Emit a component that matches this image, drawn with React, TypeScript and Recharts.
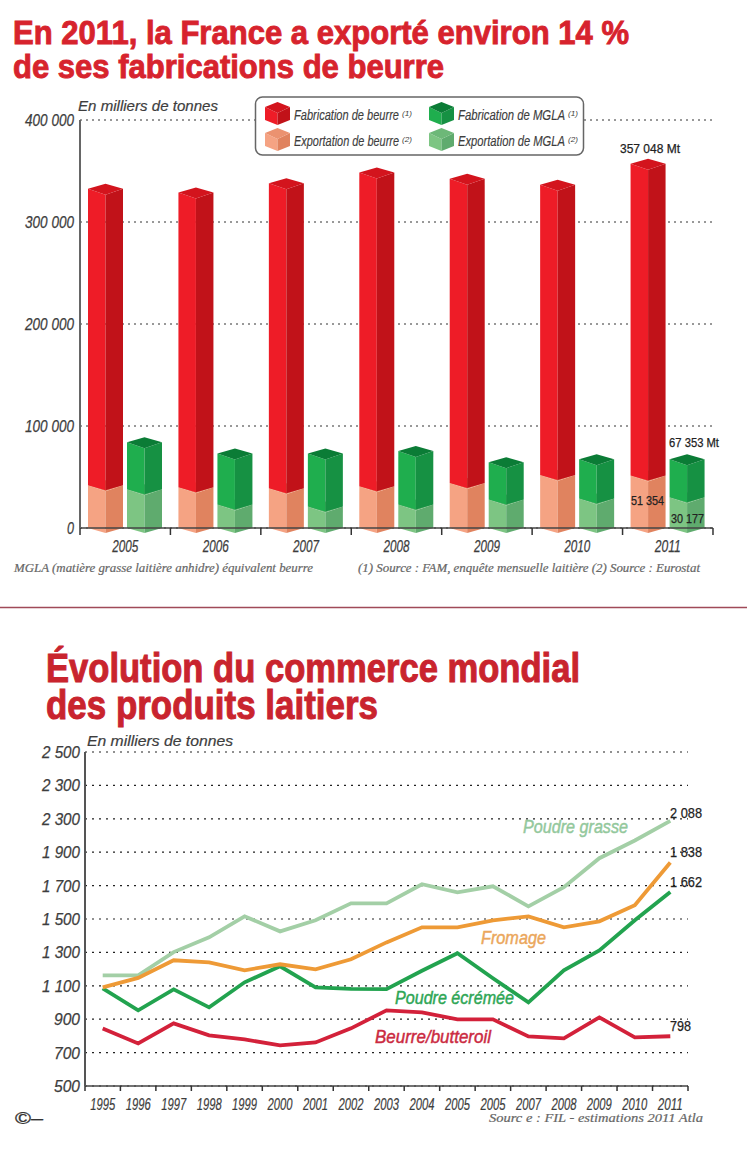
import {
  Bar,
  BarChart,
  CartesianGrid,
  Line,
  LineChart,
  XAxis,
  YAxis,
} from "recharts";

const barYears = ["2005", "2006", "2007", "2008", "2009", "2010", "2011"];
const fabricationBeurre = [332500, 329000, 338000, 348500, 342500, 336500, 357048];
const exportationBeurre = [42000, 40000, 39000, 41000, 44000, 52000, 51354];
const fabricationMgla = [84000, 73000, 73000, 75500, 64500, 67500, 67353];
const exportationMgla = [38000, 23000, 21000, 23000, 28000, 29000, 30177];
const barTicks = [0, 100000, 200000, 300000, 400000];
const barTickLabels = ["0", "100 000", "200 000", "300 000", "400 000"];

const lineYears = [
  1995, 1996, 1997, 1998, 1999, 2000, 2001, 2002, 2003, 2004, 2005, 2006, 2007, 2008, 2009, 2010, 2011,
];
// the source prints 2005 twice on its axis
const lineYearLabels = [
  "1995", "1996", "1997", "1998", "1999", "2000", "2001", "2002", "2003", "2004", "2005", "2005", "2007", "2008", "2009", "2010", "2011",
];
const poudreGrasse = [1163, 1163, 1302, 1390, 1516, 1426, 1492, 1594, 1594, 1708, 1660, 1696, 1576, 1690, 1864, 1970, 2088];
const fromage = [1091, 1147, 1253, 1240, 1193, 1229, 1199, 1259, 1360, 1450, 1450, 1492, 1516, 1450, 1486, 1582, 1838];
const poudreEcremee = [1085, 953, 1079, 971, 1121, 1217, 1091, 1082, 1080, 1190, 1295, 1145, 1001, 1193, 1312, 1492, 1662];
const beurre = [845, 755, 875, 803, 779, 743, 761, 845, 953, 941, 899, 899, 797, 785, 911, 791, 798];
const lineTicks = [500, 700, 900, 1100, 1300, 1500, 1700, 1900, 2100, 2300, 2500];
// and 2 300 twice on this one
const lineTickLabels = ["500", "700", "900", "1 100", "1 300", "1 500", "1 700", "1 900", "2 300", "2 300", "2 500"];

const barData = barYears.map((year, i) => ({
  year,
  exportBeurre: exportationBeurre[i],
  resteBeurre: fabricationBeurre[i] - exportationBeurre[i],
  exportMgla: exportationMgla[i],
  resteMgla: fabricationMgla[i] - exportationMgla[i],
}));

const lineData = lineYears.map((year, i) => ({
  year,
  poudreGrasse: poudreGrasse[i],
  fromage: fromage[i],
  poudreEcremee: poudreEcremee[i],
  beurre: beurre[i],
}));

const SANS = "'Liberation Sans', Arial, sans-serif";
const NARROW = "'Liberation Sans Narrow', 'Liberation Sans', sans-serif";
const SERIF = "'Liberation Serif', serif";
const INK = "#3d3d3d";

const palette = {
  red: { left: "#ee1c27", right: "#c11219", top: "#d3141d" },
  peach: { left: "#f5a383", right: "#e0835f", top: "#eb9270" },
  green: { left: "#1fae4e", right: "#169143", top: "#0b7c36" },
  lightGreen: { left: "#7dc583", right: "#5fab6e", top: "#6db878" },
};
type Faces = typeof palette.red;

// 3D prism: the sides sit on the value, the apexes stick out above and below
const Prism = (props: { x?: number; y?: number; width?: number; height?: number; faces: Faces }) => {
  const { x = 0, y = 0, width = 0, height = 0, faces } = props;
  const mid = x + width / 2;
  const right = x + width;
  const bottom = y + height;
  const back = y - 5;
  const front = y + 6;
  const low = bottom + 5;
  return (
    <g>
      <polygon points={`${x},${y} ${mid},${front} ${mid},${low} ${x},${bottom}`} fill={faces.left} />
      <polygon points={`${mid},${front} ${right},${y} ${right},${bottom} ${mid},${low}`} fill={faces.right} />
      <polygon points={`${x},${y} ${mid},${back} ${right},${y} ${mid},${front}`} fill={faces.top} />
    </g>
  );
};

const Txt = (props: {
  x: number;
  y: number;
  w?: number;
  size: number;
  fill?: string;
  family?: string;
  bold?: boolean;
  upright?: boolean;
  thick?: number;
  anchor?: "start" | "middle" | "end";
  children: React.ReactNode;
}) => (
  <text
    x={props.x}
    y={props.y}
    fontSize={props.size}
    fill={props.fill ?? INK}
    stroke={props.thick ? props.fill ?? INK : undefined}
    strokeWidth={props.thick}
    fontFamily={props.family ?? SANS}
    fontWeight={props.bold ? 700 : 400}
    fontStyle={props.upright ? "normal" : "italic"}
    textAnchor={props.anchor ?? "start"}
    textLength={props.w}
    lengthAdjust={props.w ? "spacingAndGlyphs" : undefined}
  >
    {props.children}
  </text>
);

const BarXTick = (props: any) => {
  const { x, y, index, payload } = props;
  const half = 45.2;
  return (
    <g>
      {index === 0 && <line x1={x - half} x2={x - half} y1={y} y2={y + 7} stroke="#333" strokeWidth={1.5} />}
      <line x1={x + half} x2={x + half} y1={y} y2={y + 7} stroke="#333" strokeWidth={1.5} />
      <Txt x={x} y={y + 24} w={26} size={16} thick={0.25} anchor="middle">
        {payload.value}
      </Txt>
    </g>
  );
};

const BarYTick = (props: any) => {
  const { x, y, payload } = props;
  const label = barTickLabels[barTicks.indexOf(payload.value)];
  return (
    <Txt x={x - 6} y={y + 6} w={label.length > 1 ? 49 : 7} size={16} thick={0.25} anchor="end">
      {label}
    </Txt>
  );
};

const LineXTick = (props: any) => {
  const { x, y, index } = props;
  const half = 17.7;
  return (
    <g>
      {index === 0 && <line x1={x - half} x2={x - half} y1={y} y2={y + 5} stroke="#333" strokeWidth={1.5} />}
      <line x1={x + half} x2={x + half} y1={y} y2={y + 5} stroke="#333" strokeWidth={1.5} />
      <Txt x={x} y={y + 24} w={25} size={16} thick={0.2} anchor="middle">
        {lineYearLabels[index]}
      </Txt>
    </g>
  );
};

const LineYTick = (props: any) => {
  const { x, y, payload } = props;
  const label = lineTickLabels[lineTicks.indexOf(payload.value)];
  return (
    <Txt x={x - 5} y={y + 6} w={label.length > 3 ? 38 : 26} size={17} thick={0.25} anchor="end">
      {label}
    </Txt>
  );
};

const legendItems = [
  { label: "Fabrication de beurre", note: "(1)", faces: palette.red, x: 265, y: 115 },
  { label: "Exportation de beurre", note: "(2)", faces: palette.peach, x: 265, y: 141 },
  { label: "Fabrication de MGLA", note: "(1)", faces: palette.green, x: 429, y: 115 },
  { label: "Exportation de MGLA", note: "(2)", faces: palette.lightGreen, x: 429, y: 141 },
];

// titles, legend box, notes and end labels, all placed by hand over the two charts
const Overlay = () => (
  <svg width={747} height={1159} style={{ position: "absolute", left: 0, top: 0, pointerEvents: "none" }}>
    <Txt x={13} y={44} w={616} size={33} fill="#d7232d" family={NARROW} bold upright thick={0.9}>
      En 2011, la France a exporté environ 14 %
    </Txt>
    <Txt x={13} y={78} w={431} size={33} fill="#d7232d" family={NARROW} bold upright thick={0.9}>
      de ses fabrications de beurre
    </Txt>
    <Txt x={78} y={111} w={140} size={15} thick={0.2}>
      En milliers de tonnes
    </Txt>

    <rect x={255.5} y={97} width={328} height={58} rx={7} fill="#fff" stroke="#666" strokeWidth={1.5} />
    {legendItems.map((item) => (
      <g key={item.label}>
        <Prism x={item.x} y={item.y - 8} width={25} height={13} faces={item.faces} />
        <Txt x={item.x + 29} y={item.y + 5} w={item.x < 300 ? 105 : 107} size={14} family={NARROW} thick={0.15}>
          {item.label}
        </Txt>
        <Txt x={item.x + (item.x < 300 ? 137 : 139)} y={item.y + 1} w={10} size={8}>
          {item.note}
        </Txt>
      </g>
    ))}

    <Txt x={620} y={153} w={60} size={13} fill="#222" upright thick={0.25}>357 048 Mt</Txt>
    <Txt x={669} y={447} w={50} size={13} fill="#222" upright thick={0.25}>67 353 Mt</Txt>
    <Txt x={631} y={505} w={33} size={13} fill="#222" upright thick={0.25}>51 354</Txt>
    <Txt x={671} y={523} w={33} size={13} fill="#222" upright thick={0.25}>30 177</Txt>

    <Txt x={14} y={572} w={299} size={12.5} fill="#666" family={SERIF} thick={0.2}>
      MGLA (matière grasse laitière anhidre) équivalent beurre
    </Txt>
    <Txt x={358} y={572} w={342} size={12.5} fill="#666" family={SERIF} thick={0.2}>
      (1) Source : FAM, enquête mensuelle laitière (2) Source : Eurostat
    </Txt>

    <line x1={0} x2={747} y1={607.5} y2={607.5} stroke="#a04a58" strokeWidth={1.5} />

    <Txt x={46} y={682} w={534} size={40} fill="#c9242e" family={NARROW} bold upright thick={1}>
      Évolution du commerce mondial
    </Txt>
    <Txt x={46} y={719} w={332} size={40} fill="#c9242e" family={NARROW} bold upright thick={1}>
      des produits laitiers
    </Txt>
    <Txt x={87} y={746} w={146} size={15.5} thick={0.2}>
      En milliers de tonnes
    </Txt>

    <Txt x={523} y={833} w={105} size={18} fill="#93c89c" thick={0.45}>Poudre grasse</Txt>
    <Txt x={481} y={944} w={65} size={18} fill="#eba75c" thick={0.45}>Fromage</Txt>
    <Txt x={395} y={1004} w={119} size={18} fill="#2ea655" thick={0.45}>Poudre écrémée</Txt>
    <Txt x={375} y={1043} w={116} size={18} fill="#cb2a41" thick={0.45}>Beurre/butteroil</Txt>

    <Txt x={670} y={818} w={32} size={14.5} fill="#222" upright thick={0.25}>2 088</Txt>
    <Txt x={670} y={857} w={32} size={14.5} fill="#222" upright thick={0.25}>1 838</Txt>
    <Txt x={670} y={887} w={32} size={14.5} fill="#222" upright thick={0.25}>1 662</Txt>
    <Txt x={670} y={1031} w={21} size={14.5} fill="#222" upright thick={0.25}>798</Txt>

    <Txt x={489} y={1122} w={214} size={12.5} fill="#666" family={SERIF} thick={0.2}>
      Sourc e : FIL - estimations 2011 Atla
    </Txt>
    <Txt x={15} y={1124} w={28} size={17} fill="#333" upright thick={0.3}>©–</Txt>
  </svg>
);

export default function App() {
  return (
    <div style={{ position: "absolute", left: 0, top: 0, width: 747, height: 1159, background: "#fff" }}>
      <div style={{ position: "absolute", left: 0, top: 0 }}>
        <BarChart
          width={747}
          height={600}
          data={barData}
          barSize={35}
          barGap={4}
          margin={{ top: 120, right: 34, bottom: 42, left: 0 }}
        >
          <CartesianGrid horizontal vertical={false} stroke="#333" strokeDasharray="2 4" />
          <XAxis
            dataKey="year"
            height={30}
            tickLine={false}
            tickSize={0}
            tickMargin={0}
            axisLine={{ stroke: "#444", strokeWidth: 1.5 }}
            tick={<BarXTick />}
            interval={0}
          />
          <YAxis
            width={80}
            domain={[0, 400000]}
            ticks={barTicks}
            tickLine={false}
            tickSize={0}
            tickMargin={0}
            axisLine={{ stroke: "#666", strokeWidth: 2 }}
            tick={<BarYTick />}
          />
          <Bar dataKey="exportBeurre" stackId="beurre" isAnimationActive={false} shape={<Prism faces={palette.peach} />} />
          <Bar dataKey="resteBeurre" stackId="beurre" isAnimationActive={false} shape={<Prism faces={palette.red} />} />
          <Bar dataKey="exportMgla" stackId="mgla" isAnimationActive={false} shape={<Prism faces={palette.lightGreen} />} />
          <Bar dataKey="resteMgla" stackId="mgla" isAnimationActive={false} shape={<Prism faces={palette.green} />} />
        </BarChart>
      </div>

      <div style={{ position: "absolute", left: 0, top: 610 }}>
        <LineChart
          width={747}
          height={549}
          data={lineData}
          margin={{ top: 142, right: 59, bottom: 43, left: 0 }}
        >
          <CartesianGrid horizontal vertical={false} stroke="#222" strokeDasharray="2 5" strokeWidth={1.2} />
          <XAxis
            dataKey="year"
            height={30}
            scale="point"
            padding={{ left: 17.7, right: 17.7 }}
            tickLine={false}
            tickSize={0}
            tickMargin={0}
            axisLine={{ stroke: "#444", strokeWidth: 1.5 }}
            tick={<LineXTick />}
            interval={0}
          />
          <YAxis
            width={85}
            domain={[500, 2500]}
            ticks={lineTicks}
            tickLine={false}
            tickSize={0}
            tickMargin={0}
            axisLine={{ stroke: "#555", strokeWidth: 2 }}
            tick={<LineYTick />}
          />
          <Line dataKey="poudreGrasse" stroke="#a3cfa6" strokeWidth={3.8} dot={false} isAnimationActive={false} />
          <Line dataKey="poudreEcremee" stroke="#22a34f" strokeWidth={3.8} dot={false} isAnimationActive={false} />
          <Line dataKey="fromage" stroke="#ee9a36" strokeWidth={3.8} dot={false} isAnimationActive={false} />
          <Line dataKey="beurre" stroke="#d3213a" strokeWidth={3.8} dot={false} isAnimationActive={false} />
        </LineChart>
      </div>

      <Overlay />
    </div>
  );
}
